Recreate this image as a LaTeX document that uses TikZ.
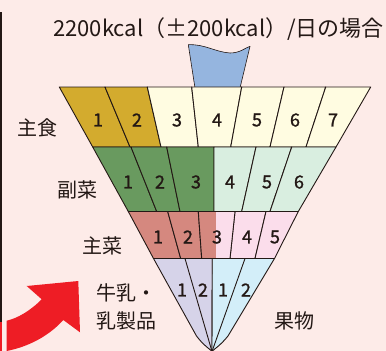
\documentclass[tikz,border=0pt]{standalone}
\usepackage{fontspec}
\setmainfont{Noto Sans CJK JP}
\newfontfamily\numfont{Noto Sans CJK JP}[FakeBold=1.2]
\definecolor{bg}{HTML}{FDEBE8}
\definecolor{ink}{HTML}{231815}
\definecolor{mustard}{HTML}{D3AB2E}
\definecolor{cream}{HTML}{FFFCE1}
\definecolor{dgreen}{HTML}{699A5F}
\definecolor{lgreen}{HTML}{D9EEE0}
\definecolor{sred}{HTML}{D5887F}
\definecolor{spink}{HTML}{FBDDEB}
\definecolor{lav}{HTML}{D6D3E9}
\definecolor{lblue}{HTML}{D3EEF9}
\definecolor{flag}{HTML}{95B5DF}
\definecolor{arrowred}{HTML}{EE1D25}
\begin{document}
\begin{tikzpicture}[x=1pt,y=-1pt,line join=round,
  cell/.style={draw=ink,line width=0.9pt},
  num/.style={font=\numfont\fontsize{18}{18}\selectfont,text=ink,inner sep=0pt},
  lab/.style={font=\fontsize{20}{20}\selectfont,text=ink,inner sep=0pt}]
\fill[bg] (0,0) rectangle (386,351);
\useasboundingbox (0,0) rectangle (386,351);
% left bar and arrow
\fill[ink] (0,12) rectangle (2,321.5);
\fill[arrowred] (0,321.5) rectangle (2,351);
\fill[arrowred] (6.7,320.7) .. controls (18,318) and (30,311) .. (41.7,299.3)
  -- (26.7,286) -- (78.3,281) -- (80,332.3) -- (63.3,320)
  .. controls (48,337) and (27,347) .. (6.7,351) -- cycle;
% title
\node[lab,anchor=west,font=\fontsize{22}{22}\selectfont] (title) at (53,29) {2200kcal（±200kcal）/日の場合};
% flag
\filldraw[fill=flag,draw=ink,line width=0.6pt] (195,88) -- (188.3,44.7)
  .. controls (205,44) and (215,52) .. (230,53)
  .. controls (240,53) and (245,48) .. (250,46.3) -- (240,88);
% row 1
\foreach \a/\b/\c/\d/\col in {59.3/105/130/92.7/mustard,105/147.3/161/130/mustard,
  147.3/191.7/198.3/161/cream,191.7/241.7/230.7/198.3/cream,241.7/284/270/230.7/cream,
  284/325.7/306/270/cream,325.7/370.7/336/306/cream}
  \filldraw[cell,fill=\col] (\a,87) -- (\b,87) -- (\c,147) -- (\d,147) -- cycle;
% row 2
\foreach \a/\b/\c/\d/\col in {92.7/131/156.7/128.3/dgreen,131/166.7/180/156.7/dgreen,
  166.7/214/214/180/dgreen,214/256/241.7/214/lgreen,256/291.7/270/241.7/lgreen,
  291.7/336/298.3/270/lgreen}
  \filldraw[cell,fill=\col] (\a,147) -- (\b,147) -- (\c,211.5) -- (\d,211.5) -- cycle;
% row 3
\foreach \a/\b/\c/\d/\col in {128.3/167.7/180.7/153.5/sred,167.7/198.3/201.7/180.7/sred,
  235/266/255/230/spink,266/298.3/274.5/255/spink}
  \filldraw[cell,fill=\col] (\a,211.5) -- (\b,211.5) -- (\c,258.5) -- (\d,258.5) -- cycle;
\fill[sred] (198.3,211.5) -- (216,211.5) -- (216,258.5) -- (201.7,258.5) -- cycle;
\fill[spink] (216,211.5) -- (235,211.5) -- (230,258.5) -- (216,258.5) -- cycle;
\draw[cell] (198.3,211.5) -- (235,211.5) -- (230,258.5) -- (201.7,258.5) -- cycle;
% row 4
\filldraw[cell,fill=lav] (212.3,258.5) -- (153.5,258.5) -- (196.5,336)
  .. controls (204,346) and (210,349) .. (212,351.5) -- cycle;
\filldraw[cell,fill=lblue] (212.3,258.5) -- (274.5,258.5) -- (228,336)
  .. controls (220,346) and (214,349) .. (212,351.5) -- cycle;
\draw[cell] (185,258.5) -- (212,351.5);
\draw[cell] (245,258.5) -- (212,351.5);
% numbers
\foreach \x/\n [count=\i] in {98/1,137/2,177/3,217/4,257/5,295/6,333/7}
  \node[num] (ra\i) at (\x,120) {\n};
\foreach \x/\n [count=\i] in {128/1,160/2,196/3,230/4,267/5,299/6}
  \node[num] (rb\i) at (\x,182) {\n};
\foreach \x/\n [count=\i] in {158/1,188/2,217/3,247/4,275/5}
  \node[num] (rc\i) at (\x,237) {\n};
\foreach \x/\n [count=\i] in {182/1,203/2,223/1,246/2}
  \node[num] (rd\i) at (\x,290) {\n};
% labels
\node[lab] (shushoku) at (37,128) {主食};
\node[lab] (fukusai) at (77,190) {副菜};
\node[lab] (shusai) at (102,246) {主菜};
\node[lab,anchor=west] (milk1) at (96,293) {牛乳・};
\node[lab,anchor=west] (milk2) at (96,321) {乳製品};
\node[lab] (fruit) at (294,321) {果物};
\end{tikzpicture}
\end{document}
